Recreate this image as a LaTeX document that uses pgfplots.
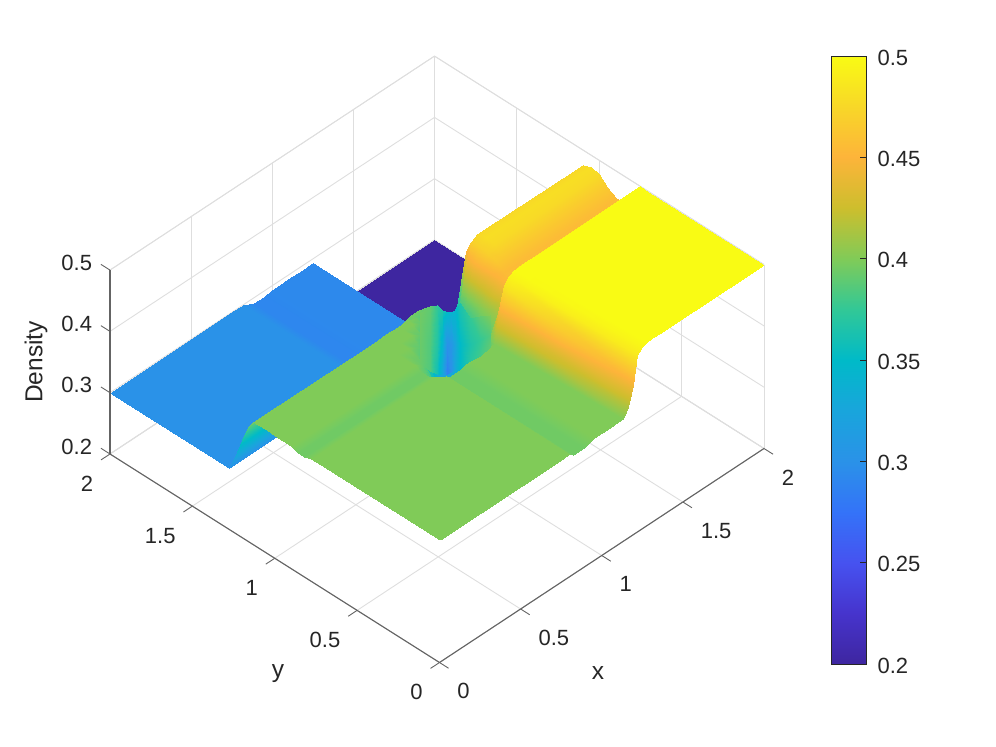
\documentclass[border=0pt]{standalone}
\usepackage{pgfplots}
\pgfplotsset{compat=1.18}
\usepackage{fontspec}
\setmainfont{Liberation Sans}
\definecolor{txt}{RGB}{38,38,38}
\definecolor{gridc}{RGB}{222,222,222}
\definecolor{axc}{RGB}{100,100,100}
\pgfplotsset{
  colormap={parula}{
    rgb255=(62,38,160) rgb255=(70,52,205) rgb255=(70,82,240) rgb255=(52,115,248)
    rgb255=(42,146,232) rgb255=(25,165,220) rgb255=(0,186,200) rgb255=(50,200,150)
    rgb255=(128,203,88) rgb255=(205,190,45) rgb255=(253,180,58) rgb255=(248,215,40)
    rgb255=(249,251,20)},
  point meta min=0.2,point meta max=0.5,
}
\begin{document}
\begin{tikzpicture}
\useasboundingbox (0,0) rectangle (996pt,747pt);
\begin{axis}[
  at={(110pt,84.5pt)},anchor=south west,
  x={(162.25pt,107pt)},y={(-164.75pt,104.25pt)},z={(0pt,613pt)},
  xmin=0,xmax=2,ymin=0,ymax=2,zmin=0.2,zmax=0.5,
  clip=false,
  xtick={0,0.5,1,1.5,2},ytick={0,0.5,1,1.5,2},ztick={0.2,0.3,0.4,0.5},
  grid=major,
  major grid style={gridc,line width=0.9pt},
  axis line style={gridc,line width=0.9pt},
  tick style={draw=none},
  major tick length=10pt,
  tick align=outside,
  xtick pos=left,ytick pos=left,ztick pos=left,
  /pgf/number format/assume math mode=true,
  tick label style={font=\fontsize{22}{26}\selectfont,text=txt},
  x tick label style={anchor=west,xshift=6pt,yshift=-23.5pt},
  y tick label style={anchor=east,xshift=-5pt,yshift=-24pt},
  z tick label style={anchor=east,xshift=-6pt,yshift=2pt},
]
\addplot3[surf,shader=interp,mesh/cols=18,mesh/ordering=x varies] coordinates {
(0,0,.4) (.76,0,.4) (.8,0,.4) (.82,0,.395) (.89,0,.395) (.95,0,.4) (1,0,.4) (1.05,0,.4) (1.1,0,.4) (1.13,0,.4) (1.16,0,.415) (1.19,0,.445) (1.22,0,.488) (1.25,0,.496) (1.28,0,.5) (1.31,0,.5) (1.35,0,.5) (2,0,.5)

(0,.72,.4) (.76,.72,.4) (.8,.72,.4) (.82,.72,.395) (.89,.72,.395) (.95,.72,.4) (1,.72,.4) (1.05,.72,.4) (1.1,.72,.4) (1.13,.72,.44) (1.16,.72,.485) (1.19,.72,.495) (1.22,.72,.5) (1.25,.72,.5) (1.28,.72,.5) (1.31,.72,.5) (1.35,.72,.5) (2,.72,.5)

(0,.75,.4) (.76,.75,.4) (.8,.75,.4) (.82,.75,.395) (.89,.75,.395) (.95,.75,.4) (1,.75,.4) (1.05,.75,.4) (1.1,.75,.4) (1.13,.75,.44) (1.16,.75,.485) (1.19,.75,.495) (1.22,.75,.5) (1.25,.75,.5) (1.28,.75,.5) (1.31,.75,.5) (1.35,.75,.5) (2,.75,.5)

(0,.78,.4) (.76,.78,.4) (.8,.78,.39) (.82,.78,.34) (.89,.78,.335) (.95,.78,.36) (1,.78,.37) (1.05,.78,.375) (1.1,.78,.38) (1.13,.78,.41) (1.16,.78,.44) (1.19,.78,.46) (1.22,.78,.475) (1.25,.78,.485) (1.28,.78,.49) (1.31,.78,.49) (1.35,.78,.49) (2,.78,.49)

(0,.82,.395) (.76,.82,.395) (.8,.82,.375) (.82,.82,.34) (.89,.82,.3) (.95,.82,.345) (1,.82,.365) (1.05,.82,.375) (1.1,.82,.38) (1.13,.82,.385) (1.16,.82,.395) (1.19,.82,.405) (1.22,.82,.42) (1.25,.82,.44) (1.28,.82,.455) (1.31,.82,.468) (1.35,.82,.47) (2,.82,.47)

(0,.86,.395) (.76,.86,.395) (.8,.86,.385) (.82,.86,.375) (.89,.86,.305) (.95,.86,.325) (1,.86,.35) (1.05,.86,.365) (1.1,.86,.375) (1.13,.86,.38) (1.16,.86,.385) (1.19,.86,.395) (1.22,.86,.41) (1.25,.86,.43) (1.28,.86,.45) (1.31,.86,.457) (1.35,.86,.457) (2,.86,.457)

(0,.9,.4) (.76,.9,.4) (.8,.9,.393) (.82,.9,.39) (.89,.9,.345) (.95,.9,.29) (1,.9,.33) (1.05,.9,.355) (1.1,.9,.37) (1.13,.9,.375) (1.16,.9,.38) (1.19,.9,.39) (1.22,.9,.405) (1.25,.9,.43) (1.28,.9,.45) (1.31,.9,.455) (1.35,.9,.455) (2,.9,.455)

(0,.95,.4) (.76,.95,.4) (.8,.95,.395) (.82,.95,.395) (.89,.95,.38) (.95,.95,.335) (1,.95,.29) (1.05,.95,.33) (1.1,.95,.355) (1.13,.95,.365) (1.16,.95,.375) (1.19,.95,.385) (1.22,.95,.4) (1.25,.95,.425) (1.28,.95,.45) (1.31,.95,.465) (1.35,.95,.465) (2,.95,.465)

(0,1,.4) (.76,1,.4) (.8,1,.4) (.82,1,.4) (.89,1,.39) (.95,1,.375) (1,1,.34) (1.05,1,.3) (1.1,1,.33) (1.13,1,.345) (1.16,1,.36) (1.19,1,.37) (1.22,1,.39) (1.25,1,.42) (1.28,1,.45) (1.31,1,.47) (1.35,1,.477) (2,1,.477)

(0,1.05,.4) (.76,1.05,.4) (.8,1.05,.4) (.82,1.05,.4) (.89,1.05,.4) (.95,1.05,.39) (1,1.05,.37) (1.05,1.05,.34) (1.1,1.05,.29) (1.13,1.05,.32) (1.16,1.05,.34) (1.19,1.05,.355) (1.22,1.05,.375) (1.25,1.05,.415) (1.28,1.05,.45) (1.31,1.05,.472) (1.35,1.05,.48) (2,1.05,.48)

(0,1.1,.4) (.76,1.1,.4) (.8,1.1,.4) (.82,1.1,.4) (.89,1.1,.4) (.95,1.1,.4) (1,1.1,.39) (1.05,1.1,.37) (1.1,1.1,.33) (1.13,1.1,.3) (1.16,1.1,.29) (1.19,1.1,.32) (1.22,1.1,.345) (1.25,1.1,.39) (1.28,1.1,.44) (1.31,1.1,.47) (1.35,1.1,.476) (2,1.1,.476)

(0,1.13,.4) (.76,1.13,.4) (.8,1.13,.4) (.82,1.13,.4) (.89,1.13,.4) (.95,1.13,.4) (1,1.13,.395) (1.05,1.13,.385) (1.1,1.13,.36) (1.13,1.13,.33) (1.16,1.13,.3) (1.19,1.13,.29) (1.22,1.13,.315) (1.25,1.13,.345) (1.28,1.13,.375) (1.31,1.13,.45) (1.35,1.13,.46) (2,1.13,.46)

(0,1.16,.387) (.76,1.16,.387) (.8,1.16,.387) (.82,1.16,.387) (.89,1.16,.387) (.95,1.16,.39) (1,1.16,.395) (1.05,1.16,.395) (1.1,1.16,.39) (1.13,1.16,.385) (1.16,1.16,.345) (1.19,1.16,.305) (1.22,1.16,.29) (1.25,1.16,.31) (1.28,1.16,.35) (1.31,1.16,.37) (1.35,1.16,.37) (2,1.16,.37)

(0,1.2,.359) (.76,1.2,.359) (.8,1.2,.359) (.82,1.2,.359) (.89,1.2,.359) (.95,1.2,.35) (1,1.2,.355) (1.05,1.2,.355) (1.1,1.2,.355) (1.13,1.2,.35) (1.16,1.2,.34) (1.19,1.2,.32) (1.22,1.2,.3) (1.25,1.2,.29) (1.28,1.2,.33) (1.31,1.2,.25) (1.35,1.2,.25) (2,1.2,.25)

(0,1.24,.324) (.76,1.24,.324) (.8,1.24,.324) (.82,1.24,.324) (.89,1.24,.324) (.95,1.24,.32) (1,1.24,.32) (1.05,1.24,.32) (1.1,1.24,.32) (1.13,1.24,.32) (1.16,1.24,.32) (1.19,1.24,.315) (1.22,1.24,.31) (1.25,1.24,.31) (1.28,1.24,.3) (1.31,1.24,.2) (1.35,1.24,.2) (2,1.24,.2)

(0,1.28,.3) (.76,1.28,.3) (.8,1.28,.3) (.82,1.28,.3) (.89,1.28,.291) (.95,1.28,.291) (1,1.28,.293) (1.05,1.28,.293) (1.1,1.28,.293) (1.13,1.28,.293) (1.16,1.28,.293) (1.19,1.28,.293) (1.22,1.28,.293) (1.25,1.28,.293) (1.28,1.28,.24) (1.31,1.28,.2) (1.35,1.28,.2) (2,1.28,.2)

(0,2,.3) (.76,2,.3) (.8,2,.3) (.82,2,.3) (.89,2,.291) (.95,2,.291) (1,2,.293) (1.05,2,.293) (1.1,2,.293) (1.13,2,.293) (1.16,2,.293) (1.19,2,.293) (1.22,2,.293) (1.25,2,.293) (1.28,2,.24) (1.31,2,.2) (1.35,2,.2) (2,2,.2)
};
% finer patch for the dip in the middle, its rows run across the valley
\addplot3[surf,shader=interp,mesh/cols=11,mesh/ordering=x varies] coordinates {
(1.038,1.141,.395) (1.116,1.157,.39) (1.186,1.183,.375) (1.207,1.173,.365) (1.256,1.191,.35) (1.291,1.202,.342) (1.304,1.19,.345) (1.294,1.15,.365) (1.223,1.02,.375) (1.219,.955,.39) (1.225,.9,.4)

(.891,.996,.393) (.945,.988,.385) (1.015,1.015,.368) (1.098,1.066,.345) (1.245,1.18,.3) (1.242,1.153,.305) (1.196,1.083,.325) (1.137,.996,.35) (1.124,.922,.365) (1.149,.885,.375) (1.174,.849,.385)

(.81,.916,.393) (.821,.866,.385) (.901,.902,.36) (.999,.968,.33) (1.15,1.087,.285) (1.128,1.041,.3) (1.062,.952,.33) (1.032,.892,.35) (1.033,.832,.37) (1.058,.796,.38) (1.102,.778,.39)
};
% front axis lines and ticks, only the visible sides
\draw[axc,line width=1.1pt] (axis cs:0,0,0.2) -- (axis cs:2,0,0.2);
\draw[axc,line width=1.1pt] (axis cs:0,0,0.2) -- (axis cs:0,2,0.2);
\draw[axc,line width=1.1pt] (axis cs:0,2,0.2) -- (axis cs:0,2,0.5);
\pgfplotsinvokeforeach{0,0.5,1,1.5,2}{
  \draw[axc,line width=0.9pt] (axis cs:#1,0,0.2) -- (axis cs:#1,-0.055,0.2);
  \draw[axc,line width=0.9pt] (axis cs:0,#1,0.2) -- (axis cs:-0.055,#1,0.2);
}
\pgfplotsinvokeforeach{0.2,0.3,0.4,0.5}{
  \draw[axc,line width=0.9pt] (axis cs:0,2,#1) -- (axis cs:0,2.055,#1);
}
\end{axis}
\begin{axis}[
  at={(831pt,83pt)},anchor=south west,
  scale only axis,width=35pt,height=608pt,
  xmin=0,xmax=1,ymin=0.2,ymax=0.5,
  xtick=\empty,
  ytick={0.2,0.25,0.3,0.35,0.4,0.45,0.5},
  ytick pos=right,yticklabel pos=right,
  tick style={draw=none},
  axis on top,
  major tick length=0pt,
  axis line style={txt,line width=0.8pt},
  /pgf/number format/fixed,/pgf/number format/precision=2,
  /pgf/number format/assume math mode=true,
  yticklabel style={font=\fontsize{22}{26}\selectfont,text=txt,xshift=8pt,yshift=-1.5pt},
]
\addplot[surf,shader=interp,point meta=y,mesh/cols=2] coordinates {
(0,.2) (1,.2)

(0,.225) (1,.225)

(0,.25) (1,.25)

(0,.275) (1,.275)

(0,.3) (1,.3)

(0,.325) (1,.325)

(0,.35) (1,.35)

(0,.375) (1,.375)

(0,.4) (1,.4)

(0,.425) (1,.425)

(0,.45) (1,.45)

(0,.475) (1,.475)

(0,.5) (1,.5)
};
\end{axis}
\foreach \ty in {184.33,285.67,387,488.33,589.67}
  \draw[txt,line width=0.9pt] (860pt,\ty pt) -- (866pt,\ty pt);
\node[text=txt,font=\fontsize{24.5}{28}\selectfont] at (598pt,74pt) {x};
\node[text=txt,font=\fontsize{24.5}{28}\selectfont] at (278pt,73pt) {y};
\node[text=txt,font=\fontsize{24.5}{28}\selectfont,rotate=90] at (36pt,385pt) {Density};
\end{tikzpicture}
\end{document}
